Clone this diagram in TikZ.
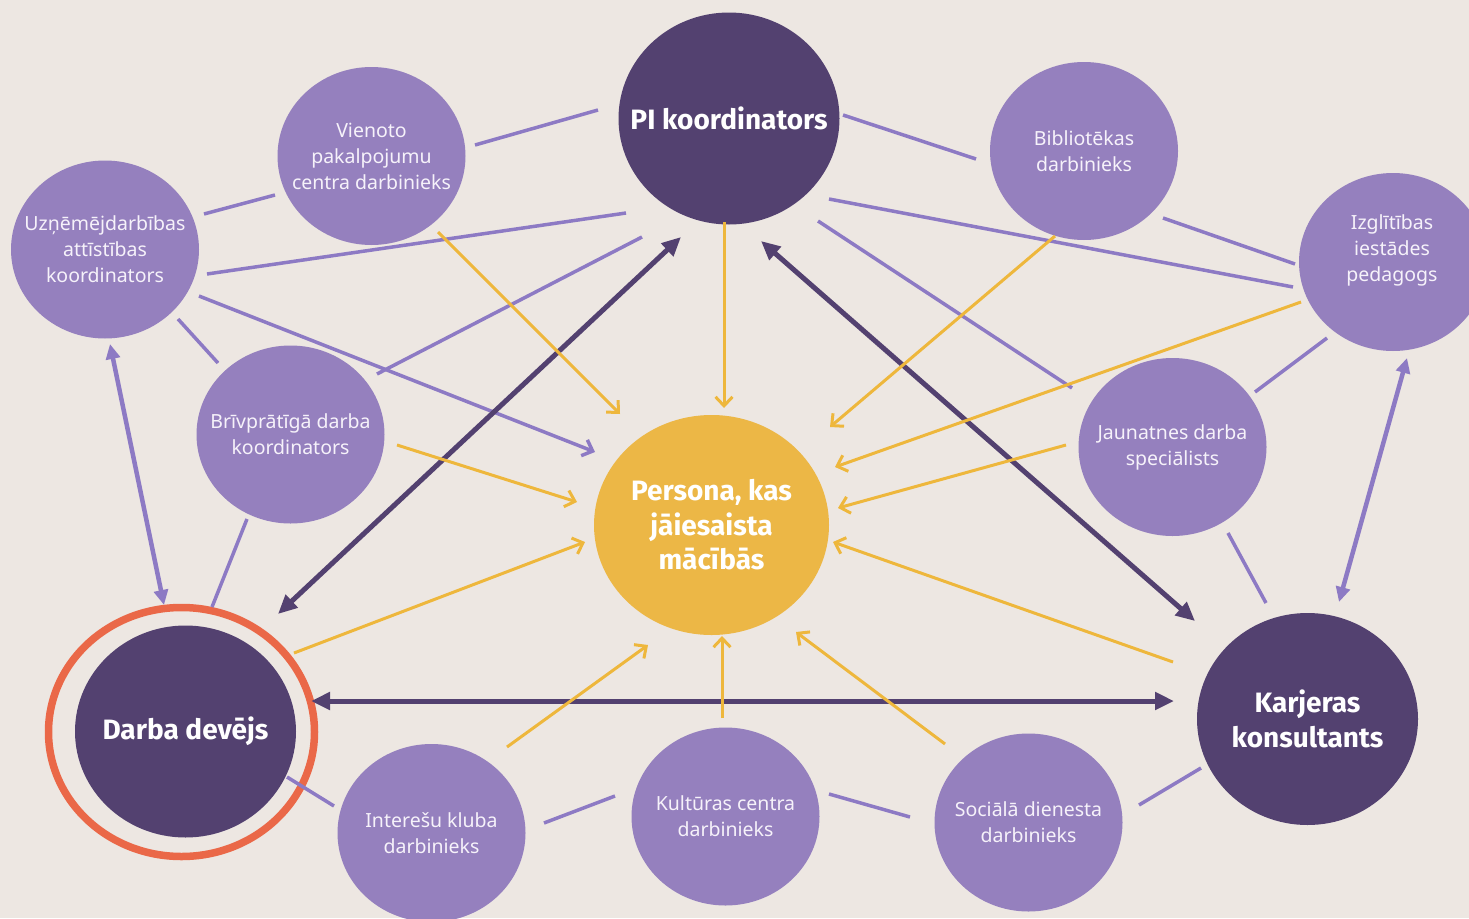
\documentclass[tikz,border=0pt]{standalone}
\usepackage{fontspec}
\setmainfont{Noto Sans}[BoldFont={Fira Sans Bold}]
\usetikzlibrary{arrows.meta,calc,shapes.geometric}
\definecolor{bgc}{HTML}{EDE7E2}
\definecolor{dpurple}{HTML}{534170}
\definecolor{lpurple}{HTML}{9580BE}
\definecolor{lline}{HTML}{8D7AC4}
\definecolor{ycirc}{HTML}{ECB746}
\definecolor{yline}{HTML}{EEB73C}
\definecolor{ringc}{HTML}{EA6848}
\definecolor{ltext}{HTML}{F6F2FA}
\tikzset{
  smallc/.style={ellipse, fill=lpurple, minimum width=188pt, minimum height=178pt, inner sep=0pt},
  bigc/.style={ellipse, fill=dpurple, minimum width=221pt, minimum height=212pt, inner sep=0pt},
  stxt/.style={inner sep=0pt, align=center, text=ltext, font=\fontsize{19.5}{26}\selectfont},
  btxt/.style={inner sep=0pt, align=center, text=white, font=\bfseries\fontsize{28}{34.5}\selectfont},
  lp/.style={draw=lline, line width=3.5pt},
  lparrow/.style={draw=lline, line width=3.5pt, arrows={-Straight Barb[length=9pt,width=17pt]}},
  ldarrow/.style={draw=lline, line width=4.5pt, arrows={Triangle[length=15pt,width=14pt]-Triangle[length=15pt,width=14pt]}},
  darrow/.style={draw=dpurple, line width=5pt, arrows={Triangle[length=19pt,width=17pt]-Triangle[length=19pt,width=17pt]}},
  yarrow/.style={draw=yline, line width=3pt, arrows={-Straight Barb[length=9pt,width=17pt]}},
  ring/.style={draw=ringc, line width=7.5pt}
}
\begin{document}
\begin{tikzpicture}[x=1pt,y=-1pt]
\fill[bgc] (0,0) rectangle (1469,918);
\useasboundingbox (0,0) rectangle (1469,918);

% circles
\node[bigc] (pi) at (729,118.5) {};
\node[smallc] (vpc) at (371.5,156) {};
\node[smallc] (uz) at (105,249.5) {};
\node[smallc] (bib) at (1084,151) {};
\node[smallc] (izg) at (1393,262) {};
\node[smallc] (bri) at (290.5,434.5) {};
\node[smallc] (jau) at (1172.5,447) {};
\node[ellipse, fill=ycirc, minimum width=235pt, minimum height=220pt, inner sep=0pt] (per) at (711.5,525) {};
\node[bigc] (dd) at (185.5,731.5) {};
\node[bigc] (kk) at (1307.5,719) {};
\node[smallc] (ik) at (431.5,833) {};
\node[smallc] (kc) at (725.5,816.5) {};
\node[smallc] (sd) at (1028.5,822.5) {};

% orange highlight ring
\draw[ring] ($(dd)+(-4,0.5)$) ellipse [x radius=133, y radius=124.5];

% texts
\node[btxt] (pi-t) at (pi) {PI koordinators};
\node[stxt] (vpc-t) at (vpc) {Vienoto\\pakalpojumu\\centra darbinieks};
\node[stxt] (uz-t) at (uz) {Uzņēmējdarbības\\attīstības\\koordinators};
\node[stxt] (bib-t) at (bib) {Bibliotēkas\\darbinieks};
\node[stxt] (izg-t) at ($(izg)+(-1,-12)$) {Izglītības\\iestādes\\pedagogs};
\node[stxt] (bri-t) at (bri) {Brīvprātīgā darba\\koordinators};
\node[stxt] (jau-t) at (jau) {Jaunatnes darba\\speciālists};
\node[btxt] (per-t) at (per) {Persona, kas\\jāiesaista\\mācībās};
\node[btxt] (dd-t) at (dd) {Darba devējs};
\node[btxt] (kk-t) at (kk) {Karjeras\\konsultants};
\node[stxt] (ik-t) at (ik) {Interešu kluba\\darbinieks};
\node[stxt] (kc-t) at (kc) {Kultūras centra\\darbinieks};
\node[stxt] (sd-t) at (sd) {Sociālā dienesta\\darbinieks};

% light purple links
\draw[lp] ($(vpc)+(103.5,-11)$) -- ($(pi)+(-131,-8.5)$);
\draw[lp] ($(uz)+(99,-35.5)$) -- ($(vpc)+(-96.5,39)$);
\draw[lp] ($(uz)+(102,24.5)$) -- ($(pi)+(-103,94.5)$);
\draw[lp] ($(uz)+(73,69.5)$) -- ($(bri)+(-72.5,-71.5)$);
\draw[lparrow] ($(uz)+(94,46.5)$) -- ($(per)+(-116.5,-73)$);
\draw[lp] ($(bri)+(86.5,-60.5)$) -- ($(pi)+(-87,118.5)$);
\draw[lp] ($(bri)+(-43.5,84.5)$) -- ($(dd)+(26.5,-124.5)$);
\draw[lp] ($(pi)+(114,-3.5)$) -- ($(bib)+(-108,8)$);
\draw[lp] ($(pi)+(100,80.5)$) -- ($(izg)+(-100,25)$);
\draw[lp] ($(pi)+(89,102.5)$) -- ($(jau)+(-100.5,-59)$);
\draw[lp] ($(bib)+(79,67)$) -- ($(izg)+(-98,2)$);
\draw[lp] ($(izg)+(-66,76)$) -- ($(jau)+(82.5,-55)$);
\draw[lp] ($(jau)+(55.5,86)$) -- ($(kk)+(-41.5,-116)$);
\draw[lp] ($(kk)+(-106.5,49)$) -- ($(sd)+(110.5,-17.5)$);
\draw[lp] ($(sd)+(-118.5,-5.5)$) -- ($(kc)+(103.5,-22.5)$);
\draw[lp] ($(kc)+(-110.5,-20.5)$) -- ($(ik)+(112.5,-10)$);
\draw[lp] ($(ik)+(-97.5,-27)$) -- ($(dd)+(101.5,45.5)$);

% light purple double arrows
\draw[ldarrow] ($(uz)+(5,94.5)$) -- ($(dd)+(-21.5,-126.5)$);
\draw[ldarrow] ($(izg)+(14,96)$) -- ($(kk)+(31.5,-117)$);

% dark purple double arrows
\draw[darrow] ($(pi)+(-48,118.5)$) -- ($(dd)+(92.5,-117.5)$);
\draw[darrow] ($(pi)+(32,122.5)$) -- ($(kk)+(-112.5,-98)$);
\draw[darrow] ($(dd)+(125.5,-30.5)$) -- ($(kk)+(-133.5,-18)$);

% yellow arrows into the person
\draw[yarrow] ($(vpc)+(66.5,76)$) -- ($(per)+(-91.5,-111)$);
\draw[yarrow] ($(pi)+(-5,103.5)$) -- ($(per)+(12.5,-117)$);
\draw[yarrow] ($(bib)+(-29,85)$) -- ($(per)+(118.5,-98)$);
\draw[yarrow] ($(izg)+(-92,40)$) -- ($(per)+(123.5,-58)$);
\draw[yarrow] ($(jau)+(-106.5,-2)$) -- ($(per)+(126.5,-17)$);
\draw[yarrow] ($(bri)+(106.5,10.5)$) -- ($(per)+(-134.5,-23)$);
\draw[yarrow] ($(dd)+(108.5,-78.5)$) -- ($(per)+(-126.5,17)$);
\draw[yarrow] ($(kk)+(-134.5,-57)$) -- ($(per)+(121.5,17)$);
\draw[yarrow] ($(ik)+(75.5,-86)$) -- ($(per)+(-63.5,120)$);
\draw[yarrow] ($(kc)+(-3.5,-98.5)$) -- ($(per)+(10.5,111)$);
\draw[yarrow] ($(sd)+(-83.5,-78.5)$) -- ($(per)+(84.5,107)$);
\end{tikzpicture}
\end{document}
